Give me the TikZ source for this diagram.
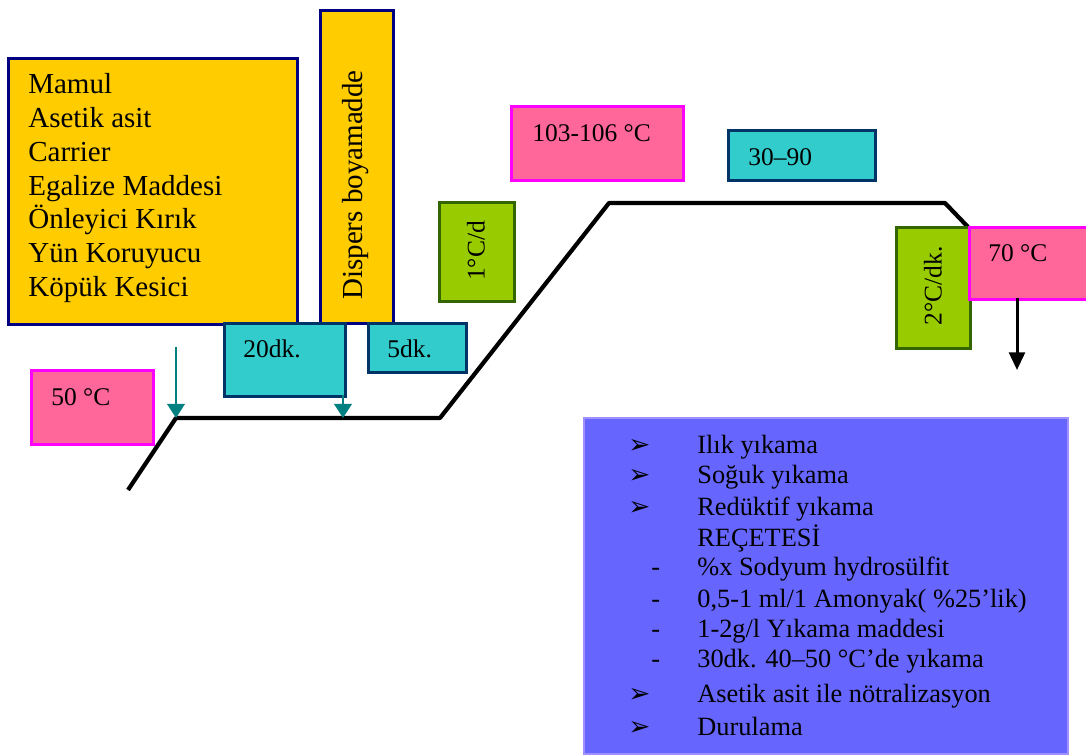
\documentclass[tikz,border=0pt]{standalone}
\usepackage{fontspec}
\setmainfont{Liberation Serif}
\newfontfamily\symfont{DejaVu Sans}
\usetikzlibrary{arrows.meta}

\definecolor{ambers}{HTML}{FFCC00}
\definecolor{navyline}{HTML}{000080}
\definecolor{tealfill}{HTML}{33CCCC}
\definecolor{tealline}{HTML}{003366}
\definecolor{pinkfill}{HTML}{FF6699}
\definecolor{pinkline}{HTML}{FF00FF}
\definecolor{limefill}{HTML}{99CC00}
\definecolor{limeline}{HTML}{336600}
\definecolor{violetfill}{HTML}{6666FF}
\definecolor{violetline}{HTML}{A090FF}
\definecolor{arrowteal}{HTML}{008080}

\tikzset{
  sz/.style 2 args={minimum width=#1*0.02cm, minimum height=#2*0.02cm},
  panel/.style={draw, line width=1.7pt, inner sep=0pt, anchor=north west},
  amberbox/.style={panel, fill=ambers, draw=navyline},
  tealbox/.style={panel, fill=tealfill, draw=tealline},
  pinkbox/.style={panel, fill=pinkfill, draw=pinkline},
  limebox/.style={panel, fill=limefill, draw=limeline},
  violetbox/.style={panel, fill=violetfill, draw=violetline, line width=1.2pt},
  txt/.style={inner sep=0pt, anchor=base west, font=\fontsize{14.5}{17}\selectfont},
  bigtxt/.style={inner sep=0pt, font=\fontsize{16.5}{19.2}\selectfont},
  listtxt/.style={inner sep=0pt, anchor=base west, font=\fontsize{15}{17.5}\selectfont},
  bulletmark/.style={inner sep=0pt, anchor=base west, font=\symfont\fontsize{15}{17}\selectfont},
  curve/.style={line width=2.4pt, line join=round},
  dropline/.style={draw=arrowteal, line width=1.1pt, -{Triangle[width=10pt,length=8pt]}},
  outline/.style={line width=1.7pt, -{Triangle[width=9pt,length=10pt]}}
}

\begin{document}
\begin{tikzpicture}[x=0.02cm, y=-0.02cm]
\useasboundingbox[fill=white] (0,0) rectangle (1086,756);

% temperature profile
\coordinate (p0) at (128,490);
\coordinate (p1) at (176,418);
\coordinate (p2) at (343,418);
\coordinate (p3) at (440,418);
\coordinate (p4) at (609,203);
\coordinate (p5) at (945,203);
\coordinate (p6) at (968,227);
\draw[curve] (p0) -- (p1) -- (p2) -- (p3) -- (p4) -- (p5) -- (p6);

% chemicals and dye
\node[amberbox, sz={289}{266}] (chem) at (7,57) {};
\node[bigtxt, anchor=base west] (chemtxt) at (28,94) {%
  \begin{tabular}[t]{@{}l@{}}
  Mamul\\ Asetik asit\\ Carrier\\ Egalize Maddesi\\
  Önleyici Kırık\\ Yün Koruyucu\\ Köpük Kesici
  \end{tabular}};
\node[amberbox, sz={73}{313}] (dye) at (319,9) {};
\node[bigtxt, rotate=90, anchor=center] (dyetxt) at (356,185) {Dispers boyamadde};

% durations
\node[tealbox, sz={121}{73}] (d20) at (223,322) {};
\node[txt] (d20txt) at (243,358) {20dk.};
\node[tealbox, sz={98}{49}] (d5) at (367,322) {};
\node[txt] (d5txt) at (387,358) {5dk.};
\node[tealbox, sz={147}{50}] (d3090) at (727,129) {};
\node[txt] (d3090txt) at (748,166) {30–90};

% temperatures
\node[pinkbox, sz={122}{74}] (t50) at (30,369) {};
\node[txt] (t50txt) at (51,406) {50 °C};
\node[pinkbox, sz={172}{74}] (t103) at (510,105) {};
\node[txt] (t103txt) at (532,142) {103-106 °C};

% heating and cooling rates
\node[limebox, sz={75}{99}] (r1) at (438,201) {};
\node[txt, rotate=90, anchor=center] (r1txt) at (476,251) {1°C/d};
\node[limebox, sz={74}{121}] (r2) at (895,226) {};
\node[txt, rotate=90, anchor=center] (r2txt) at (933,286) {2°C/dk.};
\node[pinkbox, sz={180}{72}] (t70) at (968,226) {};
\node[txt] (t70txt) at (988,262) {70 °C};

% dosing arrows
\coordinate (a1) at (176,347);
\coordinate (a2) at (343,395);
\draw[dropline] (a1) -- (p1);
\draw[dropline] (a2) -- (p2);

% discharge arrow
\coordinate (b0) at (1017,298);
\coordinate (b1) at (1017,370);
\draw[outline] (b0) -- (b1);

% after-treatment steps
\node[violetbox, sz={484}{336}] (post) at (583,417) {};
\node[bulletmark] (m1) at (628,454) {➢};
\node[listtxt] (l1) at (697,454) {Ilık yıkama};
\node[bulletmark] (m2) at (628,484) {➢};
\node[listtxt] (l2) at (697,484) {Soğuk yıkama};
\node[bulletmark] (m3) at (628,516) {➢};
\node[listtxt] (l3) at (697,516) {Redüktif yıkama};
\node[listtxt] (l4) at (697,547) {REÇETESİ};
\node[listtxt] (m5) at (651,576) {-};
\node[listtxt] (l5) at (697,576) {\%x Sodyum hydrosülfit};
\node[listtxt] (m6) at (651,608) {-};
\node[listtxt] (l6) at (697,608) {0,5-1 ml/1 Amonyak( \%25’lik)};
\node[listtxt] (m7) at (651,638) {-};
\node[listtxt] (l7) at (697,638) {1-2g/l Yıkama maddesi};
\node[listtxt] (m8) at (651,668) {-};
\node[listtxt] (l8) at (697,668) {30dk. 40–50 °C’de yıkama};
\node[bulletmark] (m9) at (628,703) {➢};
\node[listtxt] (l9) at (697,703) {Asetik asit ile nötralizasyon};
\node[bulletmark] (m10) at (628,736) {➢};
\node[listtxt] (l10) at (697,736) {Durulama};
\end{tikzpicture}
\end{document}
